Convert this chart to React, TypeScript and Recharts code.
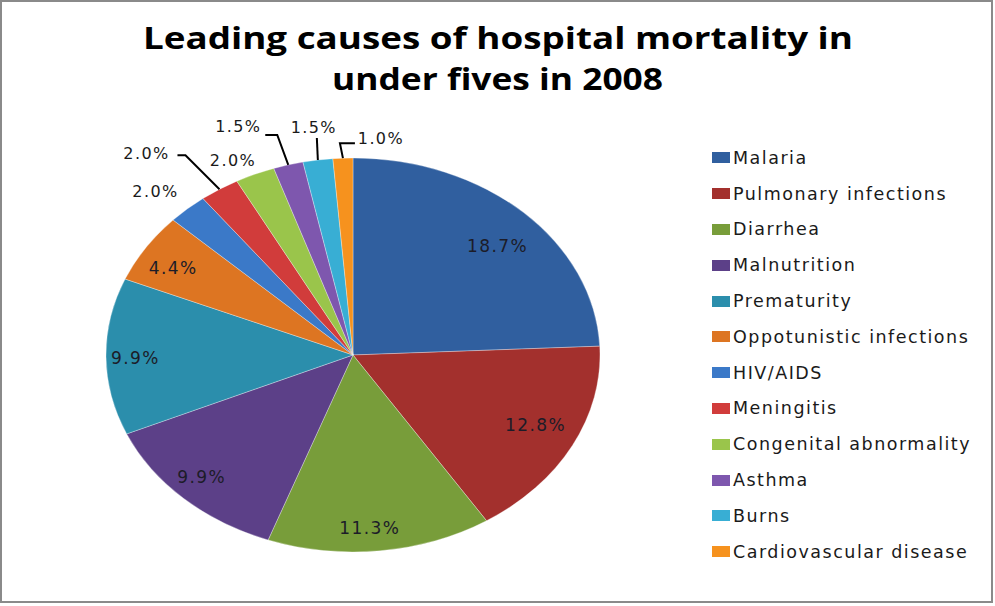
import React from "react";
import { PieChart, Pie, Cell, Legend } from "recharts";

const CAUSES = [
  "Malaria",
  "Pulmonary infections",
  "Diarrhea",
  "Malnutrition",
  "Prematurity",
  "Oppotunistic infections",
  "HIV/AIDS",
  "Meningitis",
  "Congenital abnormality",
  "Asthma",
  "Burns",
  "Cardiovascular disease",
];

const SHARES = [18.7, 12.8, 11.3, 9.9, 9.9, 4.4, 2.0, 2.0, 2.0, 1.5, 1.5, 1.0];

const COLORS = [
  "#305F9F", "#A3302D", "#789D3A", "#5C4088", "#2B8EAC", "#DD7522",
  "#3B79C8", "#D13C3B", "#9AC54B", "#7E57AE", "#38AED4", "#F6921E",
];

const TITLE_LINES = ["Leading causes of hospital mortality in", "under fives in 2008"];

const data = CAUSES.map((name, i) => ({ name, value: SHARES[i] }));

// pie geometry (the original is a stretched pie, so we squash y)
const CX = 353;
const CY = 355;
const R = 247;
const K = 197 / 247;

// label placement: inside labels use a radius factor + nudge, outside ones are offset from the slice edge
const LABEL_LAYOUT: any[] = [
  { t: 0.8, dx: 8, dy: 5 },
  { t: 0.8, dx: 7, dy: -2 },
  { t: 0.8, dx: -5, dy: 16 },
  { t: 0.8, dx: -16, dy: 7 },
  { t: 0.8, dx: -20, dy: 2 },
  { t: 0.8, dx: -14, dy: -1 },
  { out: true, dx: -32, dy: -17 },
  { out: true, dx: -73, dy: -36, leader: [[-34, -34], [-42, -34]] },
  { out: true, dx: -22, dy: -14 },
  { out: true, dx: -50, dy: -38, leader: [[-11, -30], [-23, -30]] },
  { out: true, dx: -4, dy: -33, leader: [[-1, -22]] },
  { out: true, dx: 38, dy: -20, leader: [[-3, -15], [12, -15]] },
];

const RAD = Math.PI / 180;

const renderLabel = (props: any) => {
  const { midAngle, index, value } = props;
  const L = LABEL_LAYOUT[index];
  const cos = Math.cos(midAngle * RAD);
  const sin = Math.sin(midAngle * RAD);
  const text = `${Number(value).toFixed(1)}%`;
  if (!L.out) {
    const x = CX + R * L.t * cos + L.dx;
    const y = CY - R * K * L.t * sin + L.dy;
    return (
      <text key={`l-${index}`} x={x} y={y} textAnchor="middle" dominantBaseline="central"
        fontFamily="DejaVu Sans" fontSize={17} letterSpacing={1.4} fill="#1c1c28">
        {text}
      </text>
    );
  }
  const ex = CX + R * cos;
  const ey = CY - R * K * sin;
  const pts = [[ex, ey], ...(L.leader || []).map((p: number[]) => [ex + p[0], ey + p[1]])];
  return (
    <g key={`l-${index}`}>
      {L.leader && (
        <polyline points={pts.map((p) => p.join(",")).join(" ")} fill="none" stroke="#000" strokeWidth={2} />
      )}
      <text x={ex + L.dx} y={ey + L.dy} textAnchor="middle" dominantBaseline="central"
        fontFamily="DejaVu Sans" fontSize={16} letterSpacing={1.4} fill="#1a1a1a">
        {text}
      </text>
    </g>
  );
};

const renderLegend = () => (
  <div style={{ fontFamily: "DejaVu Sans", fontSize: 17.5, letterSpacing: 1.5, color: "#1a1a1a" }}>
    {CAUSES.map((c, i) => (
      <div key={c} style={{ height: 35.8, display: "flex", alignItems: "center", whiteSpace: "nowrap" }}>
        <span style={{ display: "inline-block", width: 18, height: 11, background: COLORS[i], marginRight: 3 }} />
        <span>{c}</span>
      </div>
    ))}
  </div>
);

export default function App() {
  return (
    <div style={{ position: "absolute", left: 0, top: 0, width: 995, height: 606, background: "#fff" }}>
      <div style={{ position: "absolute", left: 0, top: 0, width: 993, height: 603, boxSizing: "border-box", border: "2px solid #8a8a8a" }} />
      <svg width={995} height={110} style={{ position: "absolute", left: 0, top: 0 }}>
        <text x={143} y={49} textLength={710} lengthAdjust="spacingAndGlyphs"
          fontFamily="Open Sans" fontWeight={700} fontSize={31} fill="#000">
          {TITLE_LINES[0]}
        </text>
        <text x={332} y={90} textLength={331} lengthAdjust="spacingAndGlyphs"
          fontFamily="Open Sans" fontWeight={700} fontSize={31} fill="#000">
          {TITLE_LINES[1]}
        </text>
      </svg>
      <div style={{ position: "absolute", left: 0, top: 0 }}>
        <PieChart width={995} height={606} margin={{ top: 0, right: 0, bottom: 0, left: 0 }}>
          <Pie
            data={data}
            dataKey="value"
            nameKey="name"
            cx={CX}
            cy={CY}
            outerRadius={R}
            startAngle={90}
            endAngle={-270}
            stroke="#ffffff"
            strokeOpacity={0.35}
            strokeWidth={1}
            label={renderLabel}
            labelLine={false}
            isAnimationActive={false}
          >
            {data.map((d, i) => (
              <Cell key={`cell-${i}`} fill={COLORS[i]} transform={`matrix(1 0 0 ${K} 0 ${CY * (1 - K)})`} />
            ))}
          </Pie>
          <Legend
            layout="vertical"
            content={renderLegend}
            wrapperStyle={{ position: "absolute", left: 712, top: 140, width: 280 }}
          />
        </PieChart>
      </div>
    </div>
  );
}
